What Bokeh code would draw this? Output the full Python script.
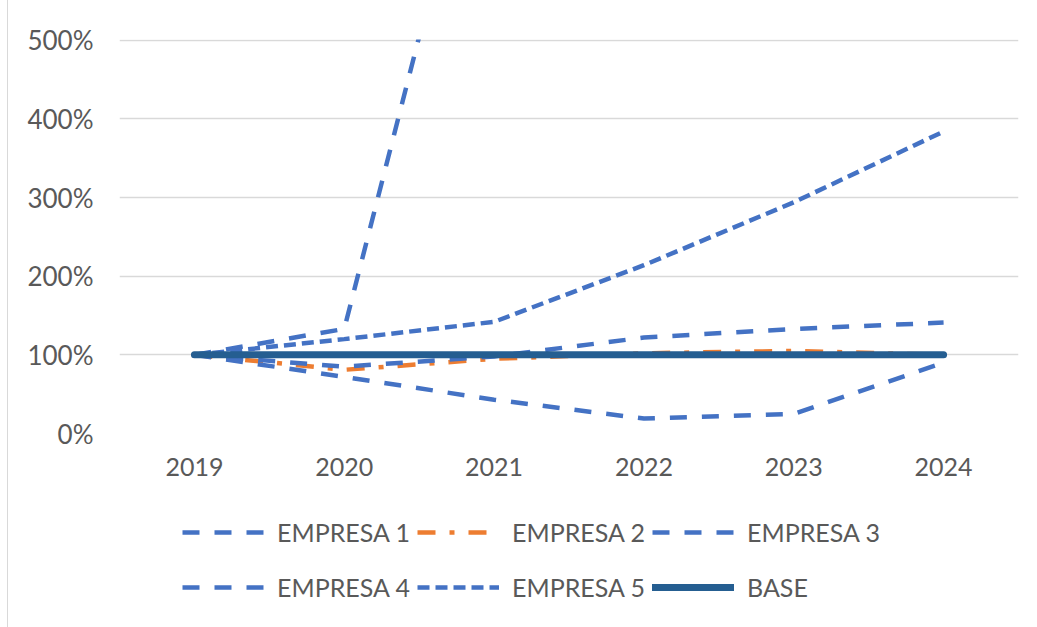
import math
from bokeh.plotting import figure
from bokeh.layouts import column
from bokeh.models import FixedTicker, PrintfTickFormatter, Legend, LegendItem, Range1d
from bokeh.embed import file_html
from bokeh.resources import INLINE

years = [2019, 2020, 2021, 2022, 2023, 2024]
empresa1 = [100, 133, 876, math.nan, math.nan, math.nan]
empresa2 = [100, 81, 95, 102, 105, 100]
empresa3 = [100, 85, 98, 122, 133, 141]
empresa4 = [100, 72, 43, 19, 25, 90]
empresa5 = [100, 120, 142, 214, 294, 384]
base = [100, 100, 100, 100, 100, 100]
y_ticks = [0, 100, 200, 300, 400, 500]
series_names = ["EMPRESA 1", "EMPRESA 2", "EMPRESA 3", "EMPRESA 4", "EMPRESA 5", "BASE"]

FONT = "Lato"
TXT = "#595959"
BLUE = "#4472C4"
ORANGE = "#ED7D31"
DARK = "#255E91"

styles = [
    dict(line_color=BLUE, line_width=4.5, line_dash="17 15"),
    dict(line_color=ORANGE, line_width=4.5, line_dash="18 14 5 14"),
    dict(line_color=BLUE, line_width=4.5, line_dash="17 15"),
    dict(line_color=BLUE, line_width=4.5, line_dash="17 15"),
    dict(line_color=BLUE, line_width=4.5, line_dash="12 6"),
    dict(line_color=DARK, line_width=7, line_cap="round"),
]
series = [empresa1, empresa2, empresa3, empresa4, empresa5, base]

p = figure(width=1028, height=510, output_backend="svg", toolbar_location=None,
           x_range=Range1d(2018.5, 2024.5), y_range=Range1d(0, 501),
           min_border_left=111, min_border_right=18, min_border_top=39, min_border_bottom=77)
p.outline_line_color = None
p.background_fill_color = "white"
p.border_fill_color = "white"

p.xgrid.grid_line_color = None
p.ygrid.grid_line_color = "#d9d9d9"
p.ygrid.grid_line_width = 1.5
p.ygrid.ticker = FixedTicker(ticks=y_ticks)

p.yaxis.ticker = FixedTicker(ticks=y_ticks)
p.yaxis.formatter = PrintfTickFormatter(format="%d%%")
p.xaxis.ticker = FixedTicker(ticks=years)
for ax in (p.xaxis[0], p.yaxis[0]):
    ax.axis_line_color = None
    ax.major_tick_line_color = None
    ax.minor_tick_line_color = None
    ax.major_tick_out = 0
    ax.major_tick_in = 0
    ax.major_label_text_font = FONT
    ax.major_label_text_color = TXT
p.yaxis.major_label_text_font_size = "26px"
p.xaxis.major_label_text_font_size = "25px"
p.yaxis.major_label_standoff = 26
p.xaxis.major_label_standoff = 24

for vals, st in zip(series, styles):
    p.line(years, vals, **st)

# legend panel below the chart (its lines lie outside its own visible ranges)
p2 = figure(width=1028, height=117, output_backend="svg", toolbar_location=None,
            x_axis_type=None, y_axis_type=None,
            x_range=Range1d(0, 1), y_range=Range1d(0, 1),
            min_border_left=0, min_border_right=0, min_border_top=0, min_border_bottom=0)
p2.outline_line_color = None
p2.border_fill_color = "white"
p2.background_fill_color = "white"
leg_renderers = [p2.line(years, vals, **st) for vals, st in zip(series, styles)]
items = [LegendItem(label=n, renderers=[r]) for n, r in zip(series_names, leg_renderers)]

def make_legend(its, y):
    return Legend(items=its, orientation="horizontal", location=(63, y),
                  glyph_width=82, glyph_height=30, label_height=30, label_width=140,
                  label_standoff=13, spacing=0, padding=0, margin=0,
                  border_line_color=None, background_fill_alpha=0,
                  label_text_font=FONT, label_text_font_size="25px",
                  label_text_color=TXT)

p2.add_layout(make_legend(items[:3], 80), "center")
p2.add_layout(make_legend(items[3:], 25), "center")

layout = column(p, p2, spacing=0,
                styles={"margin-left": "7px", "border-left": "1.5px solid #d9d9d9"})

open("out.html", "w").write(file_html(layout, INLINE))
